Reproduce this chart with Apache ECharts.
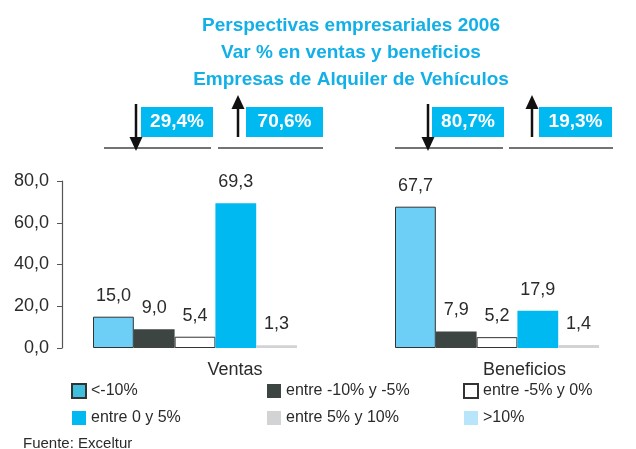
<!DOCTYPE html>
<html><head><meta charset="utf-8">
<script src="https://cdn.jsdelivr.net/npm/echarts@6/dist/echarts.min.js"></script>
<style>html,body{margin:0;padding:0;background:#fff}#c{width:636px;height:449px}</style>
</head><body><div id="c"></div>
<script>
// ---- data ----
const categories = ['Ventas', 'Beneficios'];
const seriesNames = ['<-10%', 'entre -10% y -5%', 'entre -5% y 0%', 'entre 0 y 5%', 'entre 5% y 10%', '>10%'];
const menos10 = [15.0, 67.7];
const entreM10M5 = [9.0, 7.9];
const entreM5y0 = [5.4, 5.2];
const entre0y5 = [69.3, 17.9];
const entre5y10 = [1.3, 1.4];
const mas10 = [null, null];
const bajan = [29.4, 80.7];   // % que bajan
const suben = [70.6, 19.3];   // % que suben
const titleLines = ['Perspectivas empresariales 2006', 'Var % en ventas y beneficios', 'Empresas de Alquiler de Vehículos'];
const source = 'Fuente: Exceltur';

// ---- rendering ----
const FONT = '"Liberation Sans", Arial, Helvetica, sans-serif';
const TXT = '#2b2b2b';
const CYAN = '#00b9f0';
const fmt = v => Number(v).toFixed(1).replace('.', ',');
const pct = v => fmt(v) + '%';

function bar(name, data, style, extra) {
  return Object.assign({
    name: name, type: 'bar', data: data, barWidth: 40.8, barGap: '0%',
    itemStyle: style,
    label: { show: true, position: 'top', distance: 12, fontSize: 18, color: TXT, fontFamily: FONT,
      formatter: p => (p.value == null ? '' : fmt(p.value)) },
    emphasis: { disabled: true }
  }, extra || {});
}

const chart = echarts.init(document.getElementById('c'), null, { renderer: 'canvas' });

// decorations above each group
const graphics = [];
const groupDeco = [
  { l1: [104, 211], l2: [218, 323], downX: 136, box1: 141, w1: 72, upX: 238, box2: 246, w2: 77 },
  { l1: [395, 503], l2: [509, 613], downX: 428, box1: 432, w1: 72, upX: 532, box2: 539, w2: 73 }
];
groupDeco.forEach((g, i) => {
  [g.l1, g.l2].forEach(s => graphics.push({ type: 'line', shape: { x1: s[0], y1: 148, x2: s[1], y2: 148 }, style: { stroke: '#444', lineWidth: 1.5 } }));
  // down arrow
  graphics.push({ type: 'line', shape: { x1: g.downX, y1: 104, x2: g.downX, y2: 139 }, style: { stroke: '#111', lineWidth: 2.5 } });
  graphics.push({ type: 'polygon', shape: { points: [[g.downX - 6.5, 137], [g.downX + 6.5, 137], [g.downX, 151]] }, style: { fill: '#111' } });
  // up arrow
  graphics.push({ type: 'line', shape: { x1: g.upX, y1: 107, x2: g.upX, y2: 137 }, style: { stroke: '#111', lineWidth: 2.5 } });
  graphics.push({ type: 'polygon', shape: { points: [[g.upX - 6.5, 109], [g.upX + 6.5, 109], [g.upX, 95]] }, style: { fill: '#111' } });
  // boxes
  [[g.box1, bajan[i], g.w1], [g.box2, suben[i], g.w2]].forEach(b => {
    graphics.push({ type: 'rect', shape: { x: b[0], y: 107, width: b[2], height: 30 }, style: { fill: CYAN } });
    graphics.push({ type: 'text', style: { text: pct(b[1]), x: b[0] + b[2] / 2, y: 122, align: 'center', verticalAlign: 'middle', fill: '#fff', font: 'bold 19px ' + FONT } });
  });
});

const legendBase = {
  orient: 'vertical', itemWidth: 14, itemHeight: 14, itemGap: 11, padding: 0, icon: 'rect',
  textStyle: { fontSize: 16, color: TXT, fontFamily: FONT }, top: 383, selectedMode: false
};

chart.setOption({
  animation: false,
  backgroundColor: '#fff',
  title: [
    { text: titleLines.join('\n'), left: 346, textAlign: 'center', top: 7,
      textStyle: { fontSize: 19, fontWeight: 'bold', color: '#13b0e8', lineHeight: 27, fontFamily: FONT } },
    { text: source, left: 18, top: 431, textStyle: { fontSize: 15, fontWeight: 'normal', color: TXT, fontFamily: FONT } }
  ],
  legend: [
    Object.assign({}, legendBase, { left: 71, data: [{ name: seriesNames[0], itemStyle: { color: '#3fbfdb' } }, seriesNames[3]] }),
    Object.assign({}, legendBase, { left: 267, data: [seriesNames[1], seriesNames[4]] }),
    Object.assign({}, legendBase, { left: 463, data: [seriesNames[2], seriesNames[5]] })
  ],
  grid: { left: 44, width: 604, top: 181, height: 167, containLabel: false, outerBoundsMode: 'none' },
  xAxis: {
    type: 'category', data: categories,
    axisLine: { show: false }, axisTick: { show: false },
    axisLabel: {
      margin: 13, fontSize: 18, color: TXT, fontFamily: FONT,
      formatter: (v, i) => (i === 0 ? '{a|' + v + '}' : '{b|' + v + '}'),
      rich: {
        a: { fontSize: 18, color: TXT, fontFamily: FONT, padding: [0, 0, 0, 80] },
        b: { fontSize: 18, color: TXT, fontFamily: FONT, padding: [0, 0, 0, 55] }
      }
    }
  },
  yAxis: {
    type: 'value', min: 0, max: 80, interval: 20, offset: -18,
    axisLine: { show: true, lineStyle: { color: '#555', width: 1.2 } },
    axisTick: { show: true, length: 5, lineStyle: { color: '#555' } },
    splitLine: { show: false },
    axisLabel: { formatter: v => fmt(v), fontSize: 18, color: TXT, fontFamily: FONT, margin: 13 }
  },
  series: [
    bar(seriesNames[0], menos10, { color: '#6dcff6', borderColor: '#333', borderWidth: 1 }),
    bar(seriesNames[1], entreM10M5, { color: '#3d4543' }),
    bar(seriesNames[2], entreM5y0, { color: '#ffffff', borderColor: '#333', borderWidth: 1 }),
    bar(seriesNames[3], entre0y5, { color: CYAN }),
    bar(seriesNames[4], entre5y10, { color: '#d1d3d4' }, { stack: 'top' }),
    bar(seriesNames[5], mas10, { color: '#b9e5fa' }, { stack: 'top' })
  ],
  graphic: graphics
});
</script>
</body></html>
